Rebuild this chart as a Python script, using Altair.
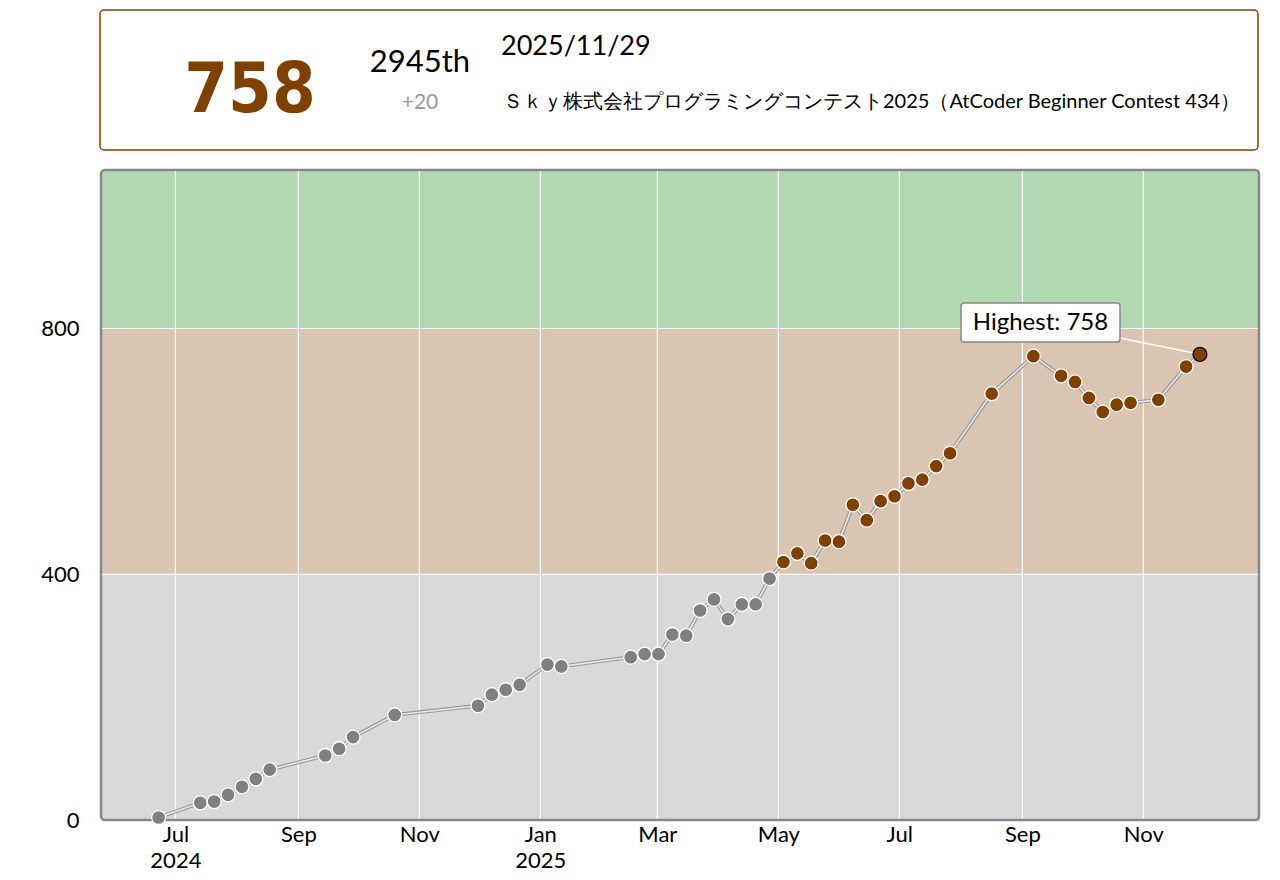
import altair as alt
import pandas as pd

# ---- data ----
dates = [
    "2024-06-22", "2024-07-13", "2024-07-20", "2024-07-27", "2024-08-03",
    "2024-08-10", "2024-08-17", "2024-09-14", "2024-09-21", "2024-09-28",
    "2024-10-19", "2024-11-30", "2024-12-07", "2024-12-14", "2024-12-21",
    "2025-01-04", "2025-01-11", "2025-02-15", "2025-02-22", "2025-03-01",
    "2025-03-08", "2025-03-15", "2025-03-22", "2025-03-29", "2025-04-05",
    "2025-04-12", "2025-04-19", "2025-04-26", "2025-05-03", "2025-05-10",
    "2025-05-17", "2025-05-24", "2025-05-31", "2025-06-07", "2025-06-14",
    "2025-06-21", "2025-06-28", "2025-07-05", "2025-07-12", "2025-07-19",
    "2025-07-26", "2025-08-16", "2025-09-06", "2025-09-20", "2025-09-27",
    "2025-10-04", "2025-10-11", "2025-10-18", "2025-10-25", "2025-11-08",
    "2025-11-22", "2025-11-29",
]
contest_end_time = "T22:40:00+09:00"
ratings = [
    4, 28, 30, 41, 54, 67, 82, 105, 116, 135,
    171, 186, 204, 212, 220, 253, 250, 265, 270, 270,
    302, 300, 341, 359, 327, 351, 351, 393, 420, 434,
    418, 455, 453, 513, 488, 519, 527, 548, 554, 576,
    597, 694, 755, 723, 713, 687, 664, 676, 679, 684,
    738, 758,
]

band_lo = [0, 400, 800]
band_hi = [400, 800, 1058]
band_colors = ["#D9D9D9", "#D9C5B2", "#B2D9B2"]

tick_dates = ["2024-07-01", "2024-09-01", "2024-11-01", "2025-01-01", "2025-03-01",
              "2025-05-01", "2025-07-01", "2025-09-01", "2025-11-01"]
y_ticks = [0, 400, 800]
grid_y = [400, 800]

header_rating = "758"
header_rank = "2945th"
header_diff = "+20"
header_date = "2025/11/29"
header_contest = "Ｓｋｙ株式会社プログラミングコンテスト2025（AtCoder Beginner Contest 434）"
highest_label = "Highest: 758"

W, H = 1158, 650
FONT = "Lato"

df = pd.DataFrame({"date": [d + contest_end_time for d in dates], "rating": ratings})
bands = pd.DataFrame({"lo": band_lo, "hi": band_hi, "c": band_colors})
vgrid = pd.DataFrame({"date": tick_dates})
hgrid = pd.DataFrame({"y": grid_y})
one = pd.DataFrame({"k": [0]})

def dt(s, h=0):
    y, m, d = s.split("-")
    return alt.DateTime(year=int(y), month=int(m), date=int(d), hours=h, utc=True)

xscale = alt.Scale(type="utc", domain=[dt("2024-05-24", 12), dt("2025-12-29", 8)])
yscale = alt.Scale(domain=[0, 1058], nice=False, zero=True)

label_expr = ("(utcmonth(datum.value) == 0 || (utcmonth(datum.value) == 6 && utcyear(datum.value) == 2024))"
              " ? [utcFormat(datum.value, '%b'), utcFormat(datum.value, '%Y')]"
              " : utcFormat(datum.value, '%b')")

xaxis = alt.Axis(values=[dt(s) for s in tick_dates], labelExpr=label_expr, grid=False,
                 domain=False, ticks=False, labelPadding=4, labelFontSize=22,
                 labelFont=FONT, labelColor="#000", labelLineHeight=26, title=None,
                 labelOverlap=False, labelFlush=False)
yaxis = alt.Axis(values=y_ticks, grid=False, domain=False, ticks=False, labelPadding=22,
                 labelFontSize=22, labelFont=FONT, labelColor="#000", title=None)

band_layer = alt.Chart(bands).mark_rect().encode(
    x=alt.value(0), x2=alt.value(W),
    y=alt.Y("lo:Q", scale=yscale, axis=yaxis), y2="hi:Q",
    fill=alt.Fill("c:N", scale=None),
)

vgrid_layer = alt.Chart(vgrid).mark_rule(color="white", strokeWidth=1.2).encode(
    x=alt.X("date:T", scale=xscale, axis=xaxis), y=alt.value(0), y2=alt.value(H)
)
hgrid_layer = alt.Chart(hgrid).mark_rule(color="white", strokeWidth=1.2).encode(
    y=alt.Y("y:Q", scale=yscale), x=alt.value(0), x2=alt.value(W)
)

border = alt.Chart(one).mark_rect(fill=None, stroke="#888888", strokeWidth=2.5, cornerRadius=4).encode(
    x=alt.value(0), x2=alt.value(W), y=alt.value(0), y2=alt.value(H)
)

line_shadow = alt.Chart(df).mark_line(color="#999999", strokeWidth=3.8).encode(
    x=alt.X("date:T", scale=xscale), y=alt.Y("rating:Q", scale=yscale)
)
line_top = alt.Chart(df).mark_line(color="#e8e8e8", strokeWidth=1.6).encode(
    x=alt.X("date:T", scale=xscale), y=alt.Y("rating:Q", scale=yscale)
)

points = alt.Chart(df).mark_point(filled=True, size=195, stroke="white", strokeWidth=1.3, opacity=1).encode(
    x=alt.X("date:T", scale=xscale), y=alt.Y("rating:Q", scale=yscale),
    fill=alt.condition(alt.datum.rating < 400, alt.value("#808080"), alt.value("#804000")),
)

highest_pt = alt.Chart(df).transform_joinaggregate(mx="max(rating)").transform_filter(
    "datum.rating == datum.mx"
).transform_window(rk="row_number()", sort=[alt.SortField("date", order="descending")]).transform_filter(
    "datum.rk == 1"
)

connector = highest_pt.mark_rule(color="white", strokeWidth=1.5).encode(
    x=alt.X("date:T", scale=xscale), y=alt.Y("rating:Q", scale=yscale),
    x2=alt.value(1019), y2=alt.value(168),
)
hi_point = highest_pt.mark_point(filled=True, size=195, fill="#804000", stroke="#000", strokeWidth=1.3, opacity=1).encode(
    x=alt.X("date:T", scale=xscale), y=alt.Y("rating:Q", scale=yscale),
)

tip_box = alt.Chart(one).mark_rect(fill="white", stroke="#888888", strokeWidth=1.5, cornerRadius=3).encode(
    x=alt.value(860), x2=alt.value(1019), y=alt.value(133), y2=alt.value(172)
)
tip_text = alt.Chart(one).mark_text(text=highest_label, font=FONT, fontSize=24, color="#000",
                                    align="center", baseline="middle").encode(
    x=alt.value(939.5), y=alt.value(153)
)

head_box = alt.Chart(one).mark_rect(fill="white", stroke="#804000", strokeWidth=1.5, cornerRadius=4).encode(
    x=alt.value(-1), x2=alt.value(1157), y=alt.value(-160), y2=alt.value(-20)
)
head_rating = alt.Chart(one).mark_text(text=header_rating, font="DejaVu Sans Condensed, Roboto", fontWeight="bold",
                                       fontSize=70, color="#804000", align="center",
                                       baseline="alphabetic").encode(x=alt.value(149), y=alt.value(-58))
head_rank = alt.Chart(one).mark_text(text=header_rank, font=FONT, fontSize=31, color="#000",
                                     align="center", baseline="alphabetic").encode(x=alt.value(319), y=alt.value(-98))
head_diff = alt.Chart(one).mark_text(text=header_diff, font=FONT, fontSize=21, color="#999999",
                                     align="center", baseline="alphabetic").encode(x=alt.value(319), y=alt.value(-61))
head_date = alt.Chart(one).mark_text(text=header_date, font=FONT, fontSize=27, color="#000",
                                     align="left", baseline="alphabetic").encode(x=alt.value(400), y=alt.value(-115))
head_contest = alt.Chart(one).mark_text(text=header_contest, font=FONT, fontSize=20, color="#000",
                                        align="left", baseline="alphabetic").encode(x=alt.value(402), y=alt.value(-62))

chart = alt.layer(
    band_layer, vgrid_layer, hgrid_layer, border,
    line_shadow, line_top, points, connector, hi_point,
    tip_box, tip_text,
    head_box, head_rating, head_rank, head_diff, head_date, head_contest,
).properties(
    width=W, height=H,
    autosize=alt.AutoSizeParams(type="none"),
    padding={"left": 93, "top": 162, "right": 13, "bottom": 52},
).configure_view(stroke=None).configure(background="white")

chart.save("out.html", embed_options={"renderer": "svg", "actions": False})
